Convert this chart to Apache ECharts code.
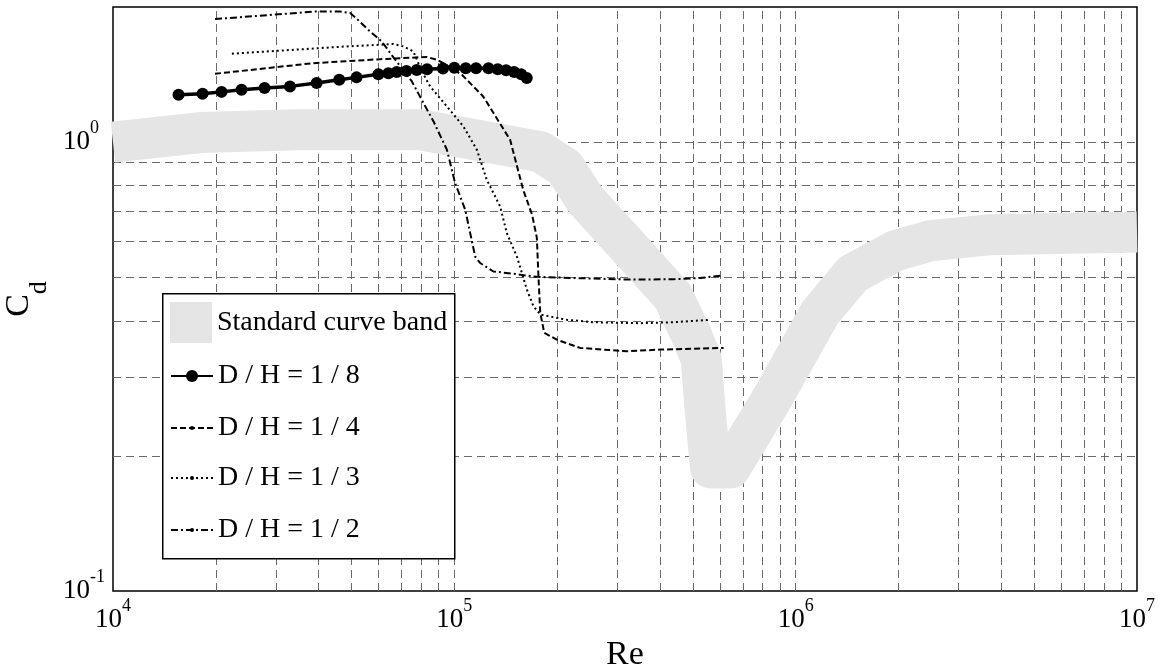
<!DOCTYPE html>
<html><head><meta charset="utf-8">
<script src="https://cdn.jsdelivr.net/npm/echarts@6/dist/echarts.min.js"></script>
<style>html,body{margin:0;padding:0;background:#fff}#c{width:1163px;height:664px}</style>
</head><body><div id="c"></div>
<script>
// ---- data ----
const bandRe = [1e4, 1.8e4, 3.5e4, 7.9e4, 1.785e5, 2.11e5, 2.42e5, 3.23e5, 4.37e5, 4.98e5, 5.29e5, 5.43e5, 5.63e5, 6.43e5, 8.59e5, 1.18e6, 1.47e6, 1.96e6, 2.48e6, 3.72e6, 1e7];
const bandCd = [1.0, 1.05, 1.066, 1.066, 0.952, 0.877, 0.744, 0.585, 0.453, 0.368, 0.328, 0.253, 0.188, 0.188, 0.271, 0.417, 0.509, 0.573, 0.603, 0.622, 0.631];

const re8 = [1.556e4, 1.83e4, 2.08e4, 2.38e4, 2.78e4, 3.30e4, 3.95e4, 4.60e4, 5.17e4, 5.99e4, 6.41e4, 6.78e4, 7.24e4, 7.76e4, 8.32e4, 9.26e4, 1.00e5, 1.08e5, 1.158e5, 1.259e5, 1.34e5, 1.418e5, 1.497e5, 1.57e5, 1.63e5];
const cd8 = [1.275, 1.282, 1.294, 1.308, 1.320, 1.331, 1.354, 1.377, 1.394, 1.416, 1.424, 1.433, 1.440, 1.447, 1.453, 1.459, 1.465, 1.460, 1.460, 1.460, 1.454, 1.446, 1.433, 1.416, 1.389];

const re4 = [1.99e4, 3.85e4, 6.06e4, 8.31e4, 8.89e4, 9.27e4, 1.052e5, 1.215e5, 1.457e5, 1.591e5, 1.69e5, 1.745e5, 1.764e5, 1.785e5, 1.834e5, 1.997e5, 2.337e5, 3.20e5, 4.01e5, 6.15e5];
const cd4 = [1.420, 1.499, 1.530, 1.548, 1.526, 1.500, 1.413, 1.264, 1.012, 0.783, 0.689, 0.612, 0.501, 0.417, 0.376, 0.363, 0.348, 0.342, 0.345, 0.348];

const re3 = [2.23e4, 4.84e4, 6.63e4, 7.09e4, 7.59e4, 7.99e4, 8.49e4, 9.51e4, 1.063e5, 1.164e5, 1.245e5, 1.362e5, 1.425e5, 1.525e5, 1.632e5, 1.705e5, 1.785e5, 2.136e5, 2.556e5, 3.50e5, 4.39e5, 5.62e5];
const cd3 = [1.574, 1.634, 1.654, 1.634, 1.592, 1.449, 1.331, 1.201, 1.084, 0.962, 0.824, 0.719, 0.627, 0.556, 0.469, 0.431, 0.413, 0.402, 0.397, 0.395, 0.397, 0.402];

const re2 = [1.99e4, 3.95e4, 4.63e4, 4.95e4, 5.18e4, 5.59e4, 6.13e4, 6.71e4, 7.51e4, 8.12e4, 8.69e4, 9.51e4, 1.005e5, 1.076e5, 1.113e5, 1.151e5, 1.19e5, 1.302e5, 1.49e5, 1.745e5, 2.234e5, 3.27e5, 4.39e5, 5.25e5, 6.01e5];
const cd2 = [1.880, 1.955, 1.955, 1.939, 1.883, 1.780, 1.676, 1.526, 1.365, 1.222, 1.112, 0.962, 0.811, 0.707, 0.627, 0.556, 0.538, 0.515, 0.509, 0.501, 0.498, 0.494, 0.495, 0.498, 0.504];

const xGridValues = [2e4, 3e4, 4e4, 5e4, 6e4, 7e4, 8e4, 9e4, 1e5, 2e5, 3e5, 4e5, 5e5, 6e5, 7e5, 8e5, 9e5, 1e6, 2e6, 3e6, 4e6, 5e6, 6e6, 7e6, 8e6, 9e6];
const yGridValues = [0.2, 0.3, 0.4, 0.5, 0.6, 0.7, 0.8, 0.9, 1.0];

const names = ['Standard curve band', 'D / H = 1 / 8', 'D / H = 1 / 4', 'D / H = 1 / 3', 'D / H = 1 / 2'];
const xName = 'Re';
const yName = '{c|C}{d|d}';

// ---- build ----
const F = 'Liberation Serif';
const zip = (a, b) => a.map((v, i) => [v, b[i]]);
function powLabel(v) {
  const l = Math.log10(v);
  const e = Math.round(l);
  if (Math.abs(l - e) > 1e-6) return '';
  return '{b|10}{s|' + e + '}';
}
const labelRich = {
  b: { fontFamily: F, fontSize: 27, color: '#000' },
  s: { fontFamily: F, fontSize: 18, color: '#000', padding: [0, 0, 27, 0] }
};
const legendBase = (name, top, h, extra) => Object.assign({
  data: [name], left: 170, top: top, orient: 'vertical', padding: 0,
  itemWidth: 42, itemHeight: h, itemGap: 0, selectedMode: false, z: 20,
  textStyle: { fontFamily: F, fontSize: 28, color: '#000', lineHeight: 30 }
}, extra || {});

const chart = echarts.init(document.getElementById('c'));
chart.setOption({
  animation: false,
  backgroundColor: '#fff',
  grid: { left: 113, right: 26, top: 7, bottom: 73, show: true, borderColor: '#000', borderWidth: 1.5, containLabel: false, outerBoundsMode: 'none' },
  xAxis: {
    type: 'log', logBase: 10, min: 1e4, max: 1e7,
    name: xName, nameLocation: 'middle', nameGap: 44,
    nameTextStyle: { fontFamily: F, fontSize: 34, color: '#000', lineHeight: 34 },
    axisLine: { show: false }, axisTick: { show: false }, splitLine: { show: false },
    axisLabel: { formatter: powLabel, margin: 6, rich: labelRich }
  },
  yAxis: {
    type: 'log', logBase: 10, min: 0.1, max: 2,
    name: yName, nameLocation: 'middle', nameGap: 52,
    nameTextStyle: { rich: {
      c: { fontFamily: F, fontSize: 34, color: '#000' },
      d: { fontFamily: F, fontSize: 26, color: '#000', padding: [40, 0, 0, 0] }
    } },
    axisLine: { show: false }, axisTick: { show: false }, splitLine: { show: false },
    axisLabel: { formatter: powLabel, margin: 50, align: 'left', rich: labelRich }
  },
  legend: [
    legendBase({ name: names[0], icon: 'rect', itemStyle: { color: '#e5e5e5', borderWidth: 0 } }, 302, 41),
    legendBase(names[1], 361, 15),
    legendBase(names[2], 413, 5),
    legendBase(names[3], 463, 5),
    legendBase(names[4], 515, 5)
  ],
  graphic: [{
    type: 'rect', left: 162, top: 293, z: 10,
    shape: { width: 292, height: 265 },
    style: { fill: '#fff', stroke: '#000', lineWidth: 1.5 }
  }],
  series: [
    {
      name: 'grid', type: 'line', z: 1, data: [], silent: true, symbol: 'none',
      markLine: {
        z: 1, silent: true, symbol: ['none', 'none'], label: { show: false }, animation: false,
        lineStyle: { color: '#6a6a6a', type: [8, 5], width: 1 },
        emphasis: { disabled: true },
        data: xGridValues.map(v => ({ xAxis: v })).concat(yGridValues.map(v => ({ yAxis: v })))
      }
    },
    {
      name: names[0], type: 'line', z: 2, data: zip(bandRe, bandCd), symbol: 'none', clip: true,
      itemStyle: { color: '#e5e5e5' },
      lineStyle: { color: '#e5e5e5', width: 41, cap: 'butt', join: 'round' }
    },
    {
      name: names[1], type: 'line', z: 4, data: zip(re8, cd8), symbol: 'circle', symbolSize: 12,
      itemStyle: { color: '#000' }, lineStyle: { color: '#000', width: 3.5 }
    },
    {
      name: names[2], type: 'line', z: 3, data: zip(re4, cd4), symbol: 'none',
      itemStyle: { color: '#000' }, lineStyle: { color: '#000', width: 2, type: [6, 3] }
    },
    {
      name: names[3], type: 'line', z: 3, data: zip(re3, cd3), symbol: 'none',
      itemStyle: { color: '#000' }, lineStyle: { color: '#000', width: 2, type: [2, 3] }
    },
    {
      name: names[4], type: 'line', z: 3, data: zip(re2, cd2), symbol: 'none',
      itemStyle: { color: '#000' }, lineStyle: { color: '#000', width: 2, type: [7, 3, 2, 3] }
    }
  ]
});
</script>
</body></html>
